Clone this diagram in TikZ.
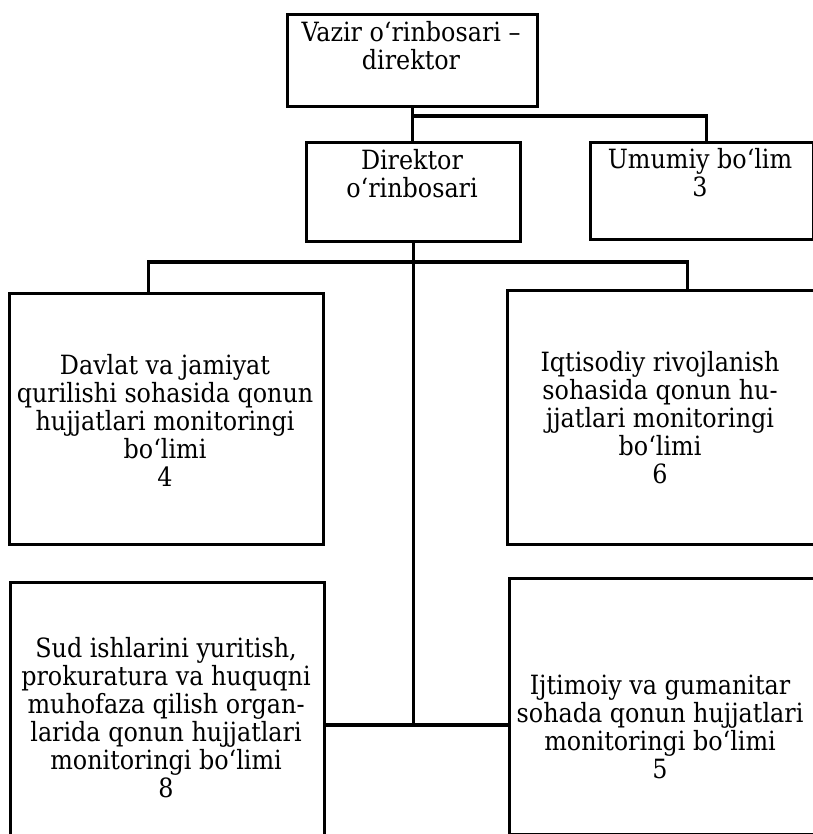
\documentclass[tikz,border=0pt]{standalone}
\usepackage{fontspec}
\setmainfont{DejaVu Serif Condensed}
\begin{document}
\begin{tikzpicture}[x=1pt,y=-1pt,
  box/.style={draw, line width=3.1pt, inner sep=0pt, anchor=north west},
  lbl/.style={align=center, inner sep=0pt, font=\fontsize{26.5}{28}\selectfont},
  conn/.style={line width=3.1pt, line cap=rect}]
\useasboundingbox (0,0) rectangle (812,834);
% boxes
\node[box, minimum width=250pt, minimum height=92pt] (T) at (286,13) {};
\node[box, minimum width=214pt, minimum height=99pt] (D) at (305,141) {};
\node[box, minimum width=223pt, minimum height=97pt] (U) at (589,141) {};
\node[box, minimum width=314pt, minimum height=251pt] (B4) at (8,292) {};
\node[box, minimum width=310pt, minimum height=254pt] (B6) at (506,289) {};
\node[box, minimum width=314pt, minimum height=270pt] (B8) at (9,581) {};
\node[box, minimum width=310pt, minimum height=256pt] (B5) at (508,577) {};
% labels
\node[lbl] (tT) at (411,46) {Vazir o‘rinbosari –\\direktor};
\node[lbl] (tD) at (412,174) {Direktor\\o‘rinbosari};
\node[lbl] (tU) at (700,173) {Umumiy bo‘lim\\3};
\node[lbl] (t4) at (165,420) {Davlat va jamiyat\\qurilishi sohasida qonun\\hujjatlari monitoringi\\bo‘limi\\4};
\node[lbl] (t6) at (660,418) {Iqtisodiy rivojlanish\\sohasida qonun hu-\\jjatlari monitoringi\\bo‘limi\\6};
\node[lbl] (t8) at (166,718) {Sud ishlarini yuritish,\\prokuratura va huquqni\\muhofaza qilish organ-\\larida qonun hujjatlari\\monitoringi bo‘limi\\8};
\node[lbl] (t5) at (660,727) {Ijtimoiy va gumanitar\\sohada qonun hujjatlari\\monitoringi bo‘limi\\5};
% connectors
\draw[conn] (T.south) -- (T.south |- D.north);
\draw[conn] (T.south |- 0,116) -| ([xshift=4.5pt]U.north);
\draw[conn] (D.south) -- (D.south |- 0,725);
\draw[conn] ([xshift=-18pt]B4.north) |- ([xshift=25pt]B6.north |- 0,262) -- ([xshift=25pt]B6.north);
\draw[conn] (B8.east |- 0,725) -- (B5.west |- 0,725);
\end{tikzpicture}
\end{document}
